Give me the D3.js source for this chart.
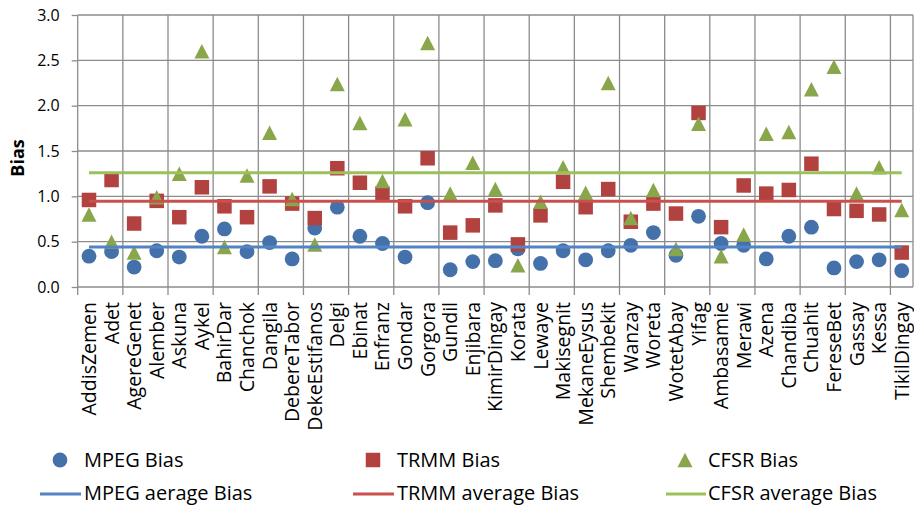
<!DOCTYPE html>
<html>
<head>
<meta charset="utf-8">
<script src="https://cdn.jsdelivr.net/npm/d3@7"></script>
<style>
  html, body { margin: 0; padding: 0; background: #fff; }
  svg { display: block; font-family: "Open Sans", "Noto Sans", sans-serif; }
</style>
</head>
<body>
<svg id="chart" width="914" height="506"></svg>
<script>
const categories = ["AddisZemen","Adet","AgereGenet","Alember","Askuna","Aykel","BahirDar","Chanchok","Dangila","DebereTabor","DekeEstifanos","Delgi","Ebinat","Enfranz","Gondar","Gorgora","Gundil","Enjibara","KimirDingay","Korata","Lewaye","Makisegnit","MekaneEysus","Shembekit","Wanzay","Woreta","WotetAbay","Yifag","Ambasamie","Merawi","Azena","Chandiba","Chuahit","FereseBet","Gassay","Kessa","TikilDingay"];
const mpegBias = [0.34,0.39,0.22,0.40,0.33,0.56,0.64,0.39,0.49,0.31,0.65,0.88,0.56,0.48,0.33,0.93,0.19,0.28,0.29,0.42,0.26,0.40,0.30,0.40,0.46,0.60,0.35,0.78,0.48,0.46,0.31,0.56,0.66,0.21,0.28,0.30,0.18];
const trmmBias = [0.96,1.18,0.70,0.95,0.77,1.10,0.89,0.77,1.11,0.92,0.76,1.31,1.15,1.03,0.89,1.42,0.60,0.68,0.90,0.47,0.79,1.16,0.88,1.08,0.72,0.92,0.81,1.92,0.66,1.12,1.03,1.07,1.36,0.86,0.84,0.80,0.38];
const cfsrBias = [0.80,0.50,0.38,0.99,1.25,2.60,0.44,1.23,1.70,0.97,0.47,2.24,1.81,1.17,1.85,2.69,1.03,1.37,1.08,0.24,0.94,1.32,1.04,2.25,0.76,1.07,0.42,1.80,0.34,0.58,1.69,1.71,2.18,2.43,1.03,1.32,0.85];
const mpegAvg = 0.44;
const trmmAvg = 0.945;
const cfsrAvg = 1.26;
const yTicks = [0, 0.5, 1.0, 1.5, 2.0, 2.5, 3.0];
const legendLabels = ["MPEG Bias","TRMM Bias","CFSR Bias","MPEG aerage Bias","TRMM average Bias","CFSR average Bias"];

const C = {
  mpegM: "#4471A9", trmmM: "#B2423F", cfsrM: "#89A64B",
  mpegL: "#5283C3", trmmL: "#C9504D", cfsrL: "#9DC15A",
  grid: "#8C8C8C", text: "#000"
};

const svg = d3.select("#chart");
const L = 77.7, R = 913, T = 15, B = 287;

const x = d3.scaleBand().domain(categories).range([L, R]).padding(0);
const cx = d => x(d) + x.bandwidth() / 2;
const y = d3.scaleLinear().domain([0, 3]).range([B, T]);

// horizontal gridlines
svg.append("g").selectAll("line").data(yTicks).join("line")
  .attr("x1", L).attr("x2", R)
  .attr("y1", d => y(d)).attr("y2", d => y(d))
  .attr("stroke", C.grid).attr("stroke-width", 1.3);

// vertical gridlines every 2 categories + right border
const vIdx = d3.range(0, categories.length + 1).filter(i => i % 2 === 0 || i === categories.length);
const bx = i => L + i * x.step();
svg.append("g").selectAll("line").data(vIdx).join("line")
  .attr("x1", bx).attr("x2", bx)
  .attr("y1", T).attr("y2", B)
  .attr("stroke", C.grid).attr("stroke-width", 1.3);

// x ticks below axis
svg.append("g").selectAll("line").data(vIdx.filter(i => i < categories.length)).join("line")
  .attr("x1", bx).attr("x2", bx)
  .attr("y1", B).attr("y2", B + 8)
  .attr("stroke", C.grid).attr("stroke-width", 1.3);

// y axis
const yAxis = svg.append("g").attr("transform", `translate(${L},0)`)
  .call(d3.axisLeft(y).tickValues(yTicks).tickSize(6).tickPadding(12).tickFormat(d3.format(".1f")));
yAxis.select(".domain").remove();
yAxis.selectAll(".tick line").attr("stroke", C.grid).attr("stroke-width", 1.3);
yAxis.selectAll(".tick text").attr("font-size", 16).attr("fill", C.text)
  .attr("font-family", "'Open Sans', sans-serif");

// y title
svg.append("text")
  .attr("transform", `translate(24,158) rotate(-90)`)
  .attr("text-anchor", "middle")
  .attr("font-size", 18).attr("font-weight", "bold")
  .text("Bias");

// category labels
svg.append("g").selectAll("text").data(categories).join("text")
  .attr("transform", d => `translate(${cx(d) + 7},302) rotate(-90)`)
  .attr("text-anchor", "end")
  .attr("font-size", 19.5)
  .text(d => d);

// markers
function triPath(w, h) {
  return `M0,${-h/2}L${w/2},${h/2}L${-w/2},${h/2}Z`;
}
const sq = 14.5;

svg.append("g").selectAll("circle").data(categories).join("circle")
  .attr("cx", cx).attr("cy", (d, i) => y(mpegBias[i])).attr("r", 7.4)
  .attr("fill", C.mpegM);

svg.append("g").selectAll("rect").data(categories).join("rect")
  .attr("x", d => cx(d) - sq / 2).attr("y", (d, i) => y(trmmBias[i]) - sq / 2)
  .attr("width", sq).attr("height", sq)
  .attr("fill", C.trmmM);

svg.append("g").selectAll("path").data(categories).join("path")
  .attr("transform", (d, i) => `translate(${cx(d)},${y(cfsrBias[i])})`)
  .attr("d", triPath(15, 14.5))
  .attr("fill", C.cfsrM);

// average lines
const first = categories[0], last = categories[categories.length - 1];
const avgs = [[mpegAvg, C.mpegL], [trmmAvg, C.trmmL], [cfsrAvg, C.cfsrL]];
svg.append("g").selectAll("line").data(avgs).join("line")
  .attr("x1", cx(first)).attr("x2", cx(last))
  .attr("y1", d => y(d[0])).attr("y2", d => y(d[0]))
  .attr("stroke", d => d[1]).attr("stroke-width", 3);

// legend
const lg = svg.append("g").attr("font-size", 20);
const colX = [60, 373, 685];
const textX = [84, 397, 708];
const row1 = 460, row2 = 493;
lg.append("circle").attr("cx", colX[0]).attr("cy", row1).attr("r", 7.4).attr("fill", C.mpegM);
lg.append("rect").attr("x", colX[1] - sq/2).attr("y", row1 - sq/2).attr("width", sq).attr("height", sq).attr("fill", C.trmmM);
lg.append("path").attr("transform", `translate(${colX[2]},${row1})`).attr("d", triPath(15, 14.5)).attr("fill", C.cfsrM);
const lineX = [[40, 81], [353, 394], [666, 706]];
const lineC = [C.mpegL, C.trmmL, C.cfsrL];
lineX.forEach((lx, i) => {
  lg.append("line").attr("x1", lx[0]).attr("x2", lx[1]).attr("y1", row2 + 1).attr("y2", row2 + 1)
    .attr("stroke", lineC[i]).attr("stroke-width", 3);
});
legendLabels.forEach((t, i) => {
  lg.append("text")
    .attr("x", textX[i % 3]).attr("y", i < 3 ? row1 : row2)
    .attr("dy", "0.36em")
    .text(t);
});
</script>
</body>
</html>
